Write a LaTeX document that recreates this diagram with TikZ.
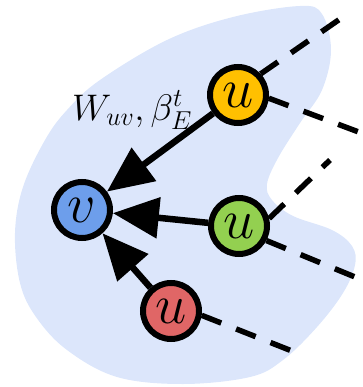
\RequirePackage{fix-cm}
\documentclass[tikz,border=0pt]{standalone}
\usetikzlibrary{arrows.meta}
\definecolor{blobblue}{HTML}{DCE6FB}
\definecolor{vblue}{HTML}{6D9EEB}
\definecolor{uyellow}{HTML}{FFC000}
\definecolor{ugreen}{HTML}{93D050}
\definecolor{ured}{HTML}{E06666}
\tikzset{
  vert/.style={circle,draw=black,line width=6pt,minimum size=56pt,inner sep=0pt,
    font=\fontsize{56}{60}\selectfont},
  edgearrow/.style={line width=6.5pt,-{Triangle[length=46pt,width=40pt]}},
  dashline/.style={line width=5.5pt,dash pattern=on 21pt off 16pt},
}
\begin{document}
\begin{tikzpicture}[x=1pt,y=-1pt]
\useasboundingbox (0,0) rectangle (362,387);
% blob
\fill[blobblue] plot[smooth cycle,tension=0.6] coordinates {
 (300,6) (322,14) (331,50) (322,90) (300,123) (278,158) (267,184) (272,200)
 (293,216) (332,230) (352,246) (355,265) (343,293) (317,327) (283,360) (250,377)
 (183,384) (117,377) (67,350) (36,317) (20,283) (15,233) (23,187) (45,140)
 (67,110) (100,80) (167,40) (233,17)};
% nodes
\node[vert,fill=vblue] (v) at (82,210) {$v$};
\node[vert,fill=uyellow] (uy) at (238,95) {$u$};
\node[vert,fill=ugreen] (ug) at (239,226) {$u$};
\node[vert,fill=ured] (ur) at (171,311) {$u$};
% dashed continuation ends
\coordinate (ey1) at (340,19);
\coordinate (ey2) at (372,137);
\coordinate (eg1) at (330,160);
\coordinate (eg2) at (372,284);
\coordinate (er1) at (297,353);
\draw[dashline] (uy.43) -- (ey1);
\draw[dashline] (uy.-6) -- (ey2);
\draw[dashline] (ug.14) -- (eg1);
\draw[dashline] (ug.-28) -- (eg2);
\draw[dashline] (ur.-8) -- (er1);
% arrows
\draw[edgearrow] (uy) -- (v);
\draw[edgearrow] (ug) -- (v);
\draw[edgearrow] (ur) -- (v);
% label
\node[font=\fontsize{37}{42}\selectfont,inner sep=0pt] (lab) at (132,110) {$W_{uv},\beta^{t}_{E}$};
\end{tikzpicture}
\end{document}
